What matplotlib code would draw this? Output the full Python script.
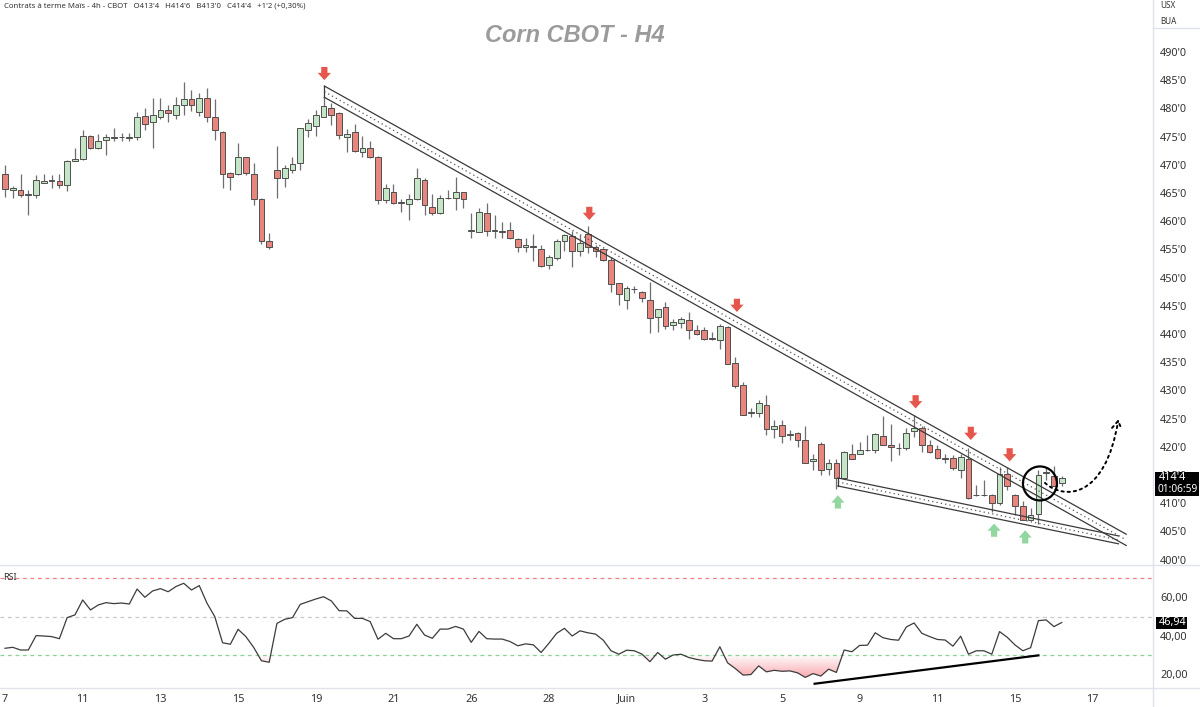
import numpy as np
import matplotlib.pyplot as plt
from matplotlib.path import Path
from matplotlib.patches import PathPatch, Polygon, Ellipse, FancyArrowPatch, Rectangle
from matplotlib.lines import Line2D
from matplotlib.colors import to_rgb

plt.rcParams['font.family'] = ['Noto Sans', 'DejaVu Sans']

# 4h candles (price in cents)
opens = [468.3, 465.6, 465.6, 464.7, 464.6, 466.8, 467.2, 467.1, 466.5, 470.6,
         471.0, 475.1, 473.0, 474.4, 474.8, 475.0, 474.9, 474.9, 478.6, 477.5,
         478.4, 479.7, 478.9, 480.6, 481.7, 479.4, 481.9, 478.5, 475.9, 468.5,
         468.3, 471.3, 468.3, 464.0, 456.5, 469.1, 467.6, 469.1, 470.4, 476.1,
         476.8, 478.5, 480.1, 479.1, 475.0, 475.9, 472.3, 472.9, 471.4, 463.8,
         465.1, 463.3, 463.0, 463.9, 467.3, 462.6, 461.4, 464.1, 464.2, 465.1,
         458.3, 458.1, 461.5, 458.3, 458.1, 458.4, 456.8, 455.4, 455.6, 455.0,
         452.2, 453.4, 456.4, 457.4, 454.8, 457.8, 455.4, 455.0, 453.1, 449.0,
         446.0, 447.9, 447.5, 446.0, 443.0, 444.7, 441.6, 442.0, 442.5, 440.7,
         440.7, 439.2, 439.0, 441.3, 434.9, 430.9, 426.0, 426.0, 427.4, 423.1,
         423.9, 422.1, 422.4, 421.2, 417.4, 420.5, 416.0, 417.2, 414.4, 418.8,
         418.8, 419.4, 419.4, 421.9, 420.4, 419.7, 419.7, 422.8, 423.4, 420.4,
         419.6, 417.9, 418.1, 415.9, 417.9, 411.4, 411.4, 411.4, 410.1, 415.2,
         411.4, 409.5, 407.1, 408.1, 415.4, 414.8, 413.5]
highs = [470.0, 466.2, 468.3, 465.5, 468.2, 468.3, 468.2, 468.3, 470.9, 473.0,
         476.2, 475.3, 475.4, 475.4, 476.5, 475.7, 475.6, 479.4, 480.1, 481.9,
         481.8, 480.6, 482.1, 484.7, 483.3, 482.7, 483.7, 481.7, 476.0, 468.8,
         473.9, 471.4, 470.3, 464.2, 457.9, 473.3, 470.0, 471.4, 476.5, 478.2,
         479.8, 482.0, 480.9, 479.4, 476.3, 477.2, 475.1, 474.3, 471.6, 466.6,
         466.6, 463.9, 464.9, 469.4, 467.6, 464.9, 464.6, 465.5, 467.9, 465.2,
         461.5, 462.3, 463.2, 461.1, 459.9, 459.9, 457.1, 457.1, 457.8, 455.8,
         454.0, 456.8, 457.7, 458.3, 457.5, 459.1, 455.8, 455.2, 453.7, 449.1,
         448.5, 448.5, 447.7, 449.3, 444.5, 445.7, 442.6, 443.1, 443.9, 441.6,
         441.3, 440.4, 441.8, 441.4, 435.9, 431.4, 426.8, 428.3, 429.2, 424.7,
         424.7, 423.0, 422.7, 423.7, 418.7, 420.9, 417.8, 417.9, 419.3, 420.5,
         420.9, 422.1, 422.4, 425.5, 424.0, 420.6, 423.3, 425.6, 423.6, 421.2,
         420.3, 418.8, 418.5, 418.7, 419.7, 413.2, 414.1, 411.6, 416.4, 416.4,
         411.7, 410.3, 409.1, 415.9, 416.4, 416.6, 414.75]
lows = [464.3, 464.1, 464.3, 461.1, 464.2, 466.7, 465.9, 465.8, 465.4, 470.6,
        470.9, 472.8, 472.8, 471.7, 474.2, 474.2, 474.2, 474.4, 476.2, 473.0,
        478.2, 477.6, 478.2, 478.9, 479.5, 478.7, 477.6, 474.4, 465.9, 465.5,
        468.2, 468.2, 462.9, 455.9, 455.0, 464.2, 466.0, 468.5, 469.1, 474.9,
        475.1, 478.5, 477.1, 474.6, 472.3, 472.3, 471.4, 471.2, 463.0, 463.3,
        463.0, 461.7, 460.2, 463.8, 461.1, 461.1, 461.3, 464.0, 461.9, 462.3,
        457.1, 458.0, 457.4, 457.0, 457.1, 456.9, 454.6, 454.6, 453.0, 451.9,
        451.6, 453.2, 454.8, 451.8, 453.8, 454.3, 453.7, 453.0, 447.5, 445.1,
        444.5, 447.3, 445.7, 440.1, 440.4, 440.8, 440.7, 441.0, 439.2, 439.8,
        439.0, 439.0, 437.3, 434.7, 430.4, 425.6, 425.3, 425.3, 422.1, 421.5,
        420.7, 421.2, 420.0, 417.1, 415.9, 415.0, 415.0, 412.6, 414.2, 417.8,
        418.7, 419.3, 418.9, 420.3, 417.5, 418.5, 419.5, 421.8, 419.1, 418.9,
        417.8, 417.1, 415.8, 414.4, 410.7, 411.3, 411.3, 408.5, 409.7, 412.3,
        407.9, 407.0, 407.0, 406.3, 414.1, 413.0, 413.0]
closes = [465.7, 465.8, 464.6, 464.8, 467.3, 467.2, 467.3, 466.5, 470.7, 471.0,
          475.1, 472.9, 474.2, 474.9, 474.9, 474.9, 474.8, 478.5, 477.2, 478.9,
          479.7, 479.1, 480.6, 481.7, 480.6, 481.9, 478.5, 476.2, 468.3, 467.9,
          471.3, 468.5, 463.9, 456.5, 455.4, 467.6, 469.4, 470.1, 476.5, 477.4,
          478.9, 480.4, 478.8, 475.3, 475.5, 472.5, 472.9, 471.4, 463.8, 465.8,
          463.3, 463.3, 464.0, 467.6, 462.9, 461.4, 464.1, 464.2, 465.1, 463.9,
          458.3, 461.6, 458.3, 458.4, 458.2, 457.1, 455.4, 455.8, 455.4, 452.0,
          453.7, 456.4, 457.6, 454.8, 456.2, 455.4, 454.8, 453.1, 448.9, 447.1,
          448.1, 448.0, 446.3, 442.8, 444.5, 441.4, 442.2, 442.6, 440.7, 440.0,
          439.2, 439.3, 441.4, 434.7, 430.7, 425.6, 426.1, 427.8, 423.1, 423.7,
          421.9, 422.2, 421.2, 417.2, 417.9, 415.9, 417.2, 414.4, 419.1, 417.9,
          419.4, 419.5, 422.3, 420.3, 419.9, 419.8, 422.4, 423.3, 420.3, 419.1,
          418.1, 418.0, 416.2, 418.2, 410.9, 411.5, 411.5, 410.1, 415.2, 413.0,
          409.5, 407.1, 407.9, 415.0, 415.5, 413.0, 414.5]

rsi = [33.5, 34.0, 32.6, 32.6, 40.1, 39.9, 39.6, 38.5, 49.5, 50.9,
       58.7, 53.5, 56.1, 57.3, 56.8, 57.1, 56.6, 64.4, 60.1, 63.4,
       64.6, 63.0, 65.7, 67.4, 63.9, 66.2, 57.0, 50.0, 36.4, 35.6,
       43.4, 39.6, 34.0, 27.0, 26.2, 46.5, 48.6, 49.5, 56.4, 57.8,
       59.2, 60.4, 58.2, 53.1, 53.0, 49.1, 49.1, 47.4, 38.2, 41.3,
       38.5, 38.5, 39.9, 46.0, 40.4, 38.7, 43.5, 43.5, 44.9, 43.5,
       36.6, 42.3, 38.5, 38.3, 38.3, 37.0, 34.8, 35.8, 35.3, 31.3,
       36.1, 41.3, 43.9, 39.9, 42.6, 41.6, 40.9, 37.7, 32.2, 30.4,
       32.5, 32.2, 30.4, 26.5, 31.3, 27.8, 30.0, 30.4, 28.7, 27.7,
       27.0, 26.8, 34.3, 25.9, 22.9, 19.5, 19.8, 24.3, 21.2, 22.0,
       21.5, 21.7, 20.7, 18.3, 20.3, 19.0, 22.6, 20.9, 32.6, 31.7,
       35.0, 35.1, 41.6, 39.0, 38.1, 37.7, 44.6, 46.7, 41.3, 39.6,
       38.1, 37.8, 34.6, 39.8, 30.4, 32.2, 32.2, 30.4, 42.2, 39.2,
       35.2, 32.2, 33.8, 47.9, 48.3, 44.8, 46.94]

date_labels = ['7', '11', '13', '15', '19', '21', '26', '28', 'Juin',
               '3', '5', '9', '11', '15', '17']
price_ticks = list(range(400, 491, 5))
rsi_ticks = [20, 40, 60]

# drawings: channel lines (bar index, price)
chan_up_x = [41.1, 144.3]
chan_up_top = [483.97, 404.5]
chan_up_bot = [481.97, 402.5]
chan_lo_x = [107.2, 143.3]
chan_lo_top = [414.47, 404.2]
chan_lo_bot = [413.05, 402.8]
red_arrows = [(41.1, 485.0), (75.2, 460.2), (94.2, 443.9), (117.2, 426.8),
              (124.3, 421.2), (129.3, 417.4)]
green_arrows = [(107.2, 411.4), (127.3, 406.4), (131.3, 405.2)]
div_x = [104.2, 133.0]
div_y = [15.0, 29.8]

opens, highs, lows, closes, rsi = map(np.array, (opens, highs, lows, closes, rsi))
idx = np.arange(len(closes))

W, H = 1200, 707


def fx(px):
    return px / W


def fy(py):
    return 1 - py / H


fig = plt.figure(figsize=(12, 7.07), dpi=100)
fig.patch.set_facecolor('white')
ax = fig.add_axes([0, fy(565), fx(1153), fy(0) - fy(565)])
ax2 = fig.add_axes([0, fy(688), fx(1153), fy(565) - fy(688)])

xlim = (-0.644, 147.75)
txt = '#333333'

# candles
green = '#c4e6c6'
red = '#e8867e'
edge = '#4f4f4f'
ax.vlines(idx, lows, highs, color='#6e6e6e', lw=0.9, zorder=2)
up = closes >= opens
body_bot = np.minimum(opens, closes)
body_h = np.maximum(np.abs(closes - opens), 0.1)
ax.bar(idx, body_h, bottom=body_bot, width=0.74,
       color=np.where(up, green, red), edgecolor=edge, linewidth=0.7, zorder=3)

# channels
for cx, top, bot in [(chan_up_x, chan_up_top, chan_up_bot),
                     (chan_lo_x, chan_lo_top, chan_lo_bot)]:
    ax.plot(cx, top, color='#3a3a3a', lw=0.9, zorder=4)
    ax.plot(cx, bot, color='#3a3a3a', lw=0.9, zorder=4)
    mid = [(a + b) / 2 for a, b in zip(top, bot)]
    ax.plot(cx, mid, color='#555555', lw=0.9, ls=(0, (1, 2.5)), zorder=4)
    ax.plot([cx[0], cx[0]], [bot[0], top[0]], color='#3a3a3a', lw=0.9, zorder=4)


def arrow(x, tip, down, color):
    sw, hw, hh, ht = 0.4, 0.85, 1.3, 2.35
    s = 1 if down else -1
    pts = [(x - sw, tip + s * ht), (x + sw, tip + s * ht), (x + sw, tip + s * hh),
           (x + hw, tip + s * hh), (x, tip), (x - hw, tip + s * hh),
           (x - sw, tip + s * hh)]
    ax.add_patch(Polygon(pts, closed=True, facecolor=color, edgecolor='none', zorder=5))


for x, p in red_arrows:
    arrow(x, p, True, '#e5574d')
for x, p in green_arrows:
    arrow(x, p, False, '#92d6a0')

# breakout circle and projected path
ax.add_patch(Ellipse((133.2, 413.5), width=2 * 17 / 7.77, height=2 * 17 / 5.64,
                     fill=False, lw=1.6, ec='black', zorder=6))
curve = Path([(133.85, 413.6), (136.2, 410.6), (141.6, 410.6), (143.3, 424.9)],
             [Path.MOVETO, Path.CURVE4, Path.CURVE4, Path.CURVE4])
ax.add_patch(FancyArrowPatch(path=curve, arrowstyle='->,head_length=0.4,head_width=0.25',
                             mutation_scale=14, lw=1.4, ls=(0, (1.2, 2)),
                             color='black', shrinkA=0, shrinkB=0, zorder=6))

ax.set_xlim(xlim)
ax.set_ylim(399.04, 499.22)
ax.set_xticks([])
ax.yaxis.tick_right()
ax.set_yticks(price_ticks)
ax.set_yticklabels([f"{v}'0" for v in price_ticks])
ax.tick_params(axis='y', length=0, pad=5, labelsize=7.8, labelcolor=txt)
for s in ax.spines.values():
    s.set_visible(False)

# RSI panel
ax2.axhline(70, color='#f07c84', ls=(0, (3, 3)), lw=0.9)
ax2.axhline(50, color='#c9c9c9', ls=(0, (3, 3)), lw=0.9)
ax2.axhline(30, color='#86d493', ls=(0, (3, 3)), lw=0.9)

fb = ax2.fill_between(idx, rsi, 30, where=rsi < 30, interpolate=True,
                      facecolor='none', edgecolor='none')
clip = PathPatch(Path.make_compound_path(*fb.get_paths()), transform=ax2.transData,
                 facecolor='none', edgecolor='none')
ax2.add_patch(clip)
lev = np.linspace(12.78, 30, 120)
grad = np.zeros((120, 1, 4))
grad[:, 0, :3] = to_rgb('#f23645')
grad[:, 0, 3] = np.clip((30 - lev) / 20 * 0.72, 0, 1)
im = ax2.imshow(grad, extent=[xlim[0], xlim[1], 12.78, 30], origin='lower',
                aspect='auto', interpolation='bilinear', zorder=1)
im.set_clip_path(clip)

ax2.plot(idx, rsi, color='#3c3c3c', lw=0.9, zorder=3)
ax2.plot(div_x, div_y, color='black', lw=1.6, zorder=4)

ax2.set_xlim(xlim)
ax2.set_ylim(12.78, 76.94)
ax2.yaxis.tick_right()
ax2.set_yticks(rsi_ticks)
ax2.set_yticklabels([f'{v},00' for v in rsi_ticks])
ax2.set_xticks(range(0, 10 * len(date_labels), 10))
ax2.set_xticklabels(date_labels)
ax2.tick_params(axis='both', length=0, labelsize=7.8, labelcolor=txt)
ax2.tick_params(axis='y', pad=5)
ax2.tick_params(axis='x', pad=4)
for lab in ax2.get_xticklabels():
    if lab.get_text() == 'Juin':
        lab.set_fontweight('bold')
for s in ax2.spines.values():
    s.set_visible(False)
ax2.text(0.003, 0.9, 'RSI', transform=ax2.transAxes, fontsize=6.5, color=txt,
         va='center', ha='left')

# frame lines
for xs, ys in [([1153, 1153], [0, 707]), ([0, 1200], [565, 565]),
               ([0, 1200], [688, 688]), ([1153, 1200], [28, 28])]:
    fig.add_artist(Line2D([fx(v) for v in xs], [fy(v) for v in ys],
                          color='#e0e3eb', lw=1, transform=fig.transFigure))

# last price / RSI tags
fig.canvas.draw()
yp = ax.transData.transform((0, closes[-1]))[1]
fig.add_artist(Rectangle((fx(1155), (yp - 18) / H), fx(44), 24 / H,
                         transform=fig.transFigure, facecolor='black', edgecolor='none'))
fig.text(fx(1159), (yp + 0.5) / H, "414'4", color='white', fontsize=7.8, va='center')
fig.text(fx(1158), (yp - 11.5) / H, '01:06:59', color='white', fontsize=7.3, va='center')
yr = ax2.transData.transform((0, rsi[-1]))[1]
fig.add_artist(Rectangle((fx(1156), (yr - 6) / H), fx(31), 12 / H,
                         transform=fig.transFigure, facecolor='black', edgecolor='none'))
fig.text(fx(1159), yr / H, '46,94', color='white', fontsize=7.8, va='center')

# header and title
fig.text(fx(4), fy(6), "Contrats à terme Maïs - 4h - CBOT   O413'4   H414'6   B413'0   "
         "C414'4   +1'2 (+0,30%)", fontsize=5.6, color=txt, va='center')
fig.text(fx(1160), fy(6), 'USX', fontsize=5.8, color=txt, va='center')
fig.text(fx(1160), fy(21), 'BUA', fontsize=5.8, color=txt, va='center')
fig.text(fx(575), fy(35), 'Corn CBOT - H4', ha='center', va='center', fontsize=17,
         color='#9b9b9b', fontweight='bold', fontstyle='italic',
         family=['Liberation Sans', 'DejaVu Sans'])

fig.savefig('out.png', dpi=100, facecolor='white')
